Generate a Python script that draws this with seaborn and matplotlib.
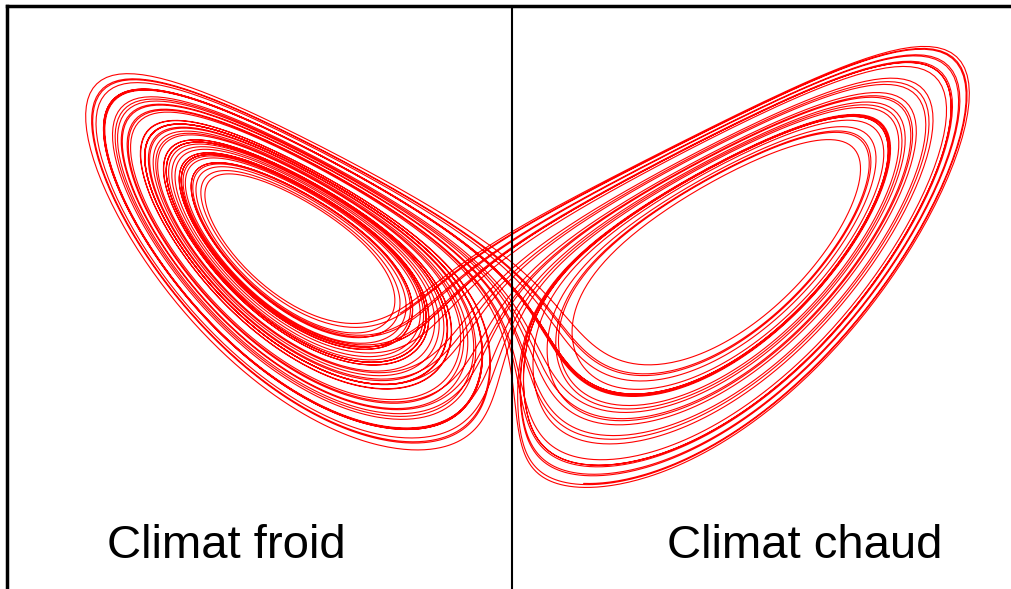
import numpy as np
import pandas as pd
import matplotlib
matplotlib.use("Agg")
import matplotlib.pyplot as plt
import seaborn as sns

# Lorenz system parameters (the chart shows the Lorenz attractor, x-z projection)
sigma = 10.0
rho = 28.0
beta = 8.0 / 3.0
initial_state = [1.0, 1.0, 20.0]
t_end = 60.0
dt = 0.004
t_skip = 2.0

labels = ["Climat froid", "Climat chaud"]

def lorenz(s):
    x, y, z = s
    return np.array([sigma * (y - x), x * (rho - z) - y, x * y - beta * z])

n = int(t_end / dt)
states = np.empty((n, 3))
s = np.array(initial_state, dtype=float)
for i in range(n):
    states[i] = s
    k1 = lorenz(s)
    k2 = lorenz(s + 0.5 * dt * k1)
    k3 = lorenz(s + 0.5 * dt * k2)
    k4 = lorenz(s + dt * k3)
    s = s + dt / 6.0 * (k1 + 2 * k2 + 2 * k3 + k4)
states = states[int(t_skip / dt):]
df = pd.DataFrame({"x": states[:, 0], "z": states[:, 2]})

sns.set_style("white")
plt.rcParams["font.family"] = ["Liberation Sans", "DejaVu Sans"]

W, H = 1012, 589
fig = plt.figure(figsize=(W / 100, H / 100), dpi=100)
ax = fig.add_axes([7 / W, 0, 1 - 7 / W, 1 - 6 / H])
sns.lineplot(data=df, x="x", y="z", sort=False, estimator=None, color="red",
             linewidth=0.8, ax=ax)
ax.axvline(0, color="black", linewidth=1.5)
ax.set_xlim(-19.65, 19.46)
ax.set_ylim(-2.5, 47.8)
ax.set_xticks([])
ax.set_yticks([])
ax.set_xlabel("")
ax.set_ylabel("")
for side in ["bottom", "right"]:
    ax.spines[side].set_visible(False)
for side in ["left", "top"]:
    ax.spines[side].set_visible(True)
    ax.spines[side].set_color("black")
    ax.spines[side].set_linewidth(2.5)

fig.text(226 / W, 1 - 558 / H, labels[0], fontsize=34, color="black", ha="center", va="baseline")
fig.text(805 / W, 1 - 558 / H, labels[1], fontsize=34, color="black", ha="center", va="baseline")

fig.savefig("out.png", dpi=100)
